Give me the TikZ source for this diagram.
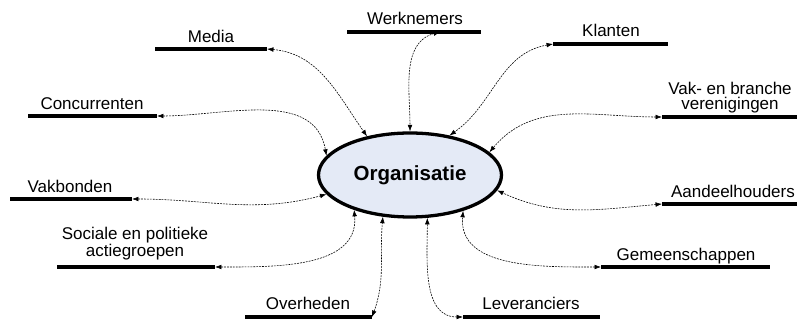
\documentclass[tikz,border=0pt]{standalone}
\usepackage{fontspec}
\setmainfont{Liberation Sans}
\usetikzlibrary{arrows.meta,shapes.geometric}
\definecolor{orgfill}{RGB}{228,234,246}
\begin{document}
\begin{tikzpicture}[x=0.3mm,y=0.3mm,
	bar/.style={line width=3pt},
	lbl/.style={font=\fontsize{14.5}{13}\selectfont,inner sep=0pt,anchor=base,align=center},
	link/.style={{Latex[length=5.5pt,width=4pt]}-{Latex[length=5.5pt,width=4pt]},line width=0.5pt,dash pattern=on 1.6pt off 0.9pt}]
	\useasboundingbox (0,0) rectangle (797,320);
	\node[ellipse,draw,line width=2.8pt,fill=orgfill,inner sep=0pt,minimum width=54.9mm,minimum height=25.2mm,font=\fontsize{17.5}{20}\selectfont\bfseries] (org) at (410,145) {Organisatie};
	\coordinate (mediaL) at (155,271);
	\coordinate (mediaR) at (267,271);
	\coordinate (werkL) at (347,288);
	\coordinate (werkR) at (481,288);
	\coordinate (werkA) at (440,288);
	\coordinate (klantL) at (553,276);
	\coordinate (klantR) at (668,276);
	\coordinate (vakL) at (662,203);
	\coordinate (vakR) at (797,203);
	\coordinate (concL) at (28,204);
	\coordinate (concR) at (157,204);
	\coordinate (bondL) at (10,121);
	\coordinate (bondR) at (132,121);
	\coordinate (socL) at (57,53);
	\coordinate (socR) at (215,53);
	\coordinate (overL) at (245,3);
	\coordinate (overR) at (372,3);
	\coordinate (levL) at (463,3);
	\coordinate (levR) at (600,3);
	\coordinate (gemL) at (601,53);
	\coordinate (gemR) at (770,53);
	\coordinate (aandL) at (662,116);
	\coordinate (aandR) at (797,116);
	\draw[bar] (mediaL)--(mediaR);
	\draw[bar] (werkL)--(werkR);
	\draw[bar] (klantL)--(klantR);
	\draw[bar] (vakL)--(vakR);
	\draw[bar] (concL)--(concR);
	\draw[bar] (bondL)--(bondR);
	\draw[bar] (socL)--(socR);
	\draw[bar] (overL)--(overR);
	\draw[bar] (levL)--(levR);
	\draw[bar] (gemL)--(gemR);
	\draw[bar] (aandL)--(aandR);
	\node[lbl] (media) at (211,277) {Media};
	\node[lbl] (werk) at (415,295) {Werknemers};
	\node[lbl] (klant) at (611,283) {Klanten};
	\node[lbl] (vak) at (730,210) {Vak- en branche\\verenigingen};
	\node[lbl] (conc) at (92,210) {Concurrenten};
	\node[lbl] (bond) at (70,127) {Vakbonden};
	\node[lbl] (soc) at (135,63) {Sociale en politieke\\actiegroepen};
	\node[lbl] (over) at (308,10) {Overheden};
	\node[lbl] (lev) at (531,10) {Leveranciers};
	\node[lbl] (gem) at (686,59) {Gemeenschappen};
	\node[lbl] (aand) at (733,122) {Aandeelhouders};
	\draw[link] (mediaR) to[out=-5,in=125] (org.138);
	\draw[link] (werkA) to[out=195,in=90] (org.90);
	\draw[link] (klantL) to[out=190,in=35] (org.45);
	\draw[link] (vakL) to[out=180,in=50] (org.16);
	\draw[link] (concR) to[out=0,in=100] (org.167);
	\draw[link] (bondR) to[out=0,in=195] (org.193);
	\draw[link] (socR) to[out=0,in=-85] (org.212);
	\draw[link] (overR) to[out=70,in=-95] (org.237);
	\draw[link] (levL) to[out=180,in=-90] (org.292);
	\draw[link] (gemL) to[out=180,in=-95] (org.326);
	\draw[link] (aandL) to[out=185,in=-25] (org.350);
\end{tikzpicture}
\end{document}
